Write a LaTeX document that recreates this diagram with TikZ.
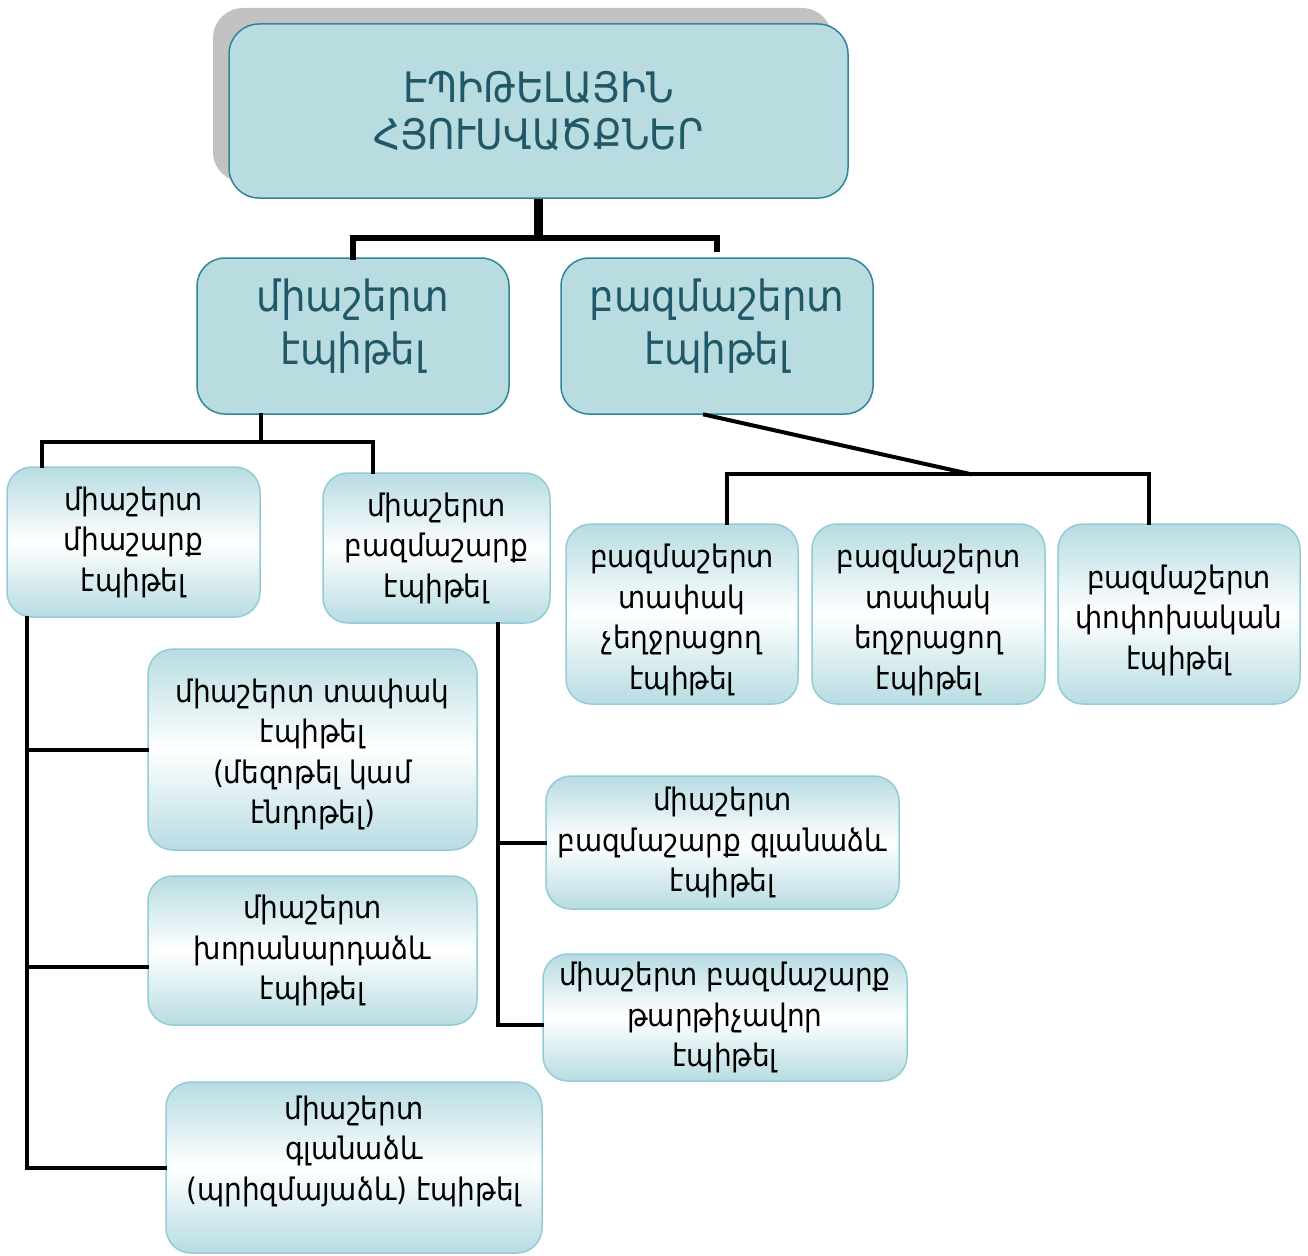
\documentclass[tikz,border=0pt]{standalone}
\usepackage{fontspec}
\setmainfont{DejaVu Sans Condensed}
\usepackage{tikz}
\usetikzlibrary{shadows}
\definecolor{tissueFill}{RGB}{185,220,224}
\definecolor{tissueEdge}{RGB}{49,133,155}
\definecolor{tissueText}{RGB}{33,88,104}
\definecolor{gradTeal}{RGB}{183,220,226}
\definecolor{gradEdge}{RGB}{146,204,214}
\definecolor{shadowGray}{RGB}{194,194,194}

\begin{document}
\begin{tikzpicture}[x=1pt, y=-1pt, line cap=rect]
        \tikzset{
           tissue/.style={
                        rectangle,
                        rounded corners=30pt,
                        draw=tissueEdge,
                        line width=1.5pt,
                        fill=tissueFill,
                        text=tissueText,
                        align=center,
                        font=\fontsize{42}{47}\selectfont,
                        drop shadow={shadow xshift=-16pt, shadow yshift=16pt,
                                     fill=shadowGray, opacity=1}
                       },
           layerType/.style={
                        rectangle,
                        rounded corners=28pt,
                        draw=tissueEdge,
                        line width=1.5pt,
                        fill=tissueFill,
                        text=tissueText,
                        align=center,
                        minimum width=312pt,
                        minimum height=156pt,
                        text depth=28pt,
                        font=\fontsize{43}{53}\selectfont
                       },
           subType/.style={
                        rectangle,
                        rounded corners=25pt,
                        draw=gradEdge,
                        line width=1.5pt,
                        top color=gradTeal,
                        bottom color=gradTeal,
                        middle color=white,
                        text=black,
                        align=center,
                        inner sep=2pt,
                        font=\fontsize{31}{40.5}\selectfont
                       },
           stem/.style={draw=black, line width=8.5pt, line cap=butt},
           trunk/.style={draw=black, line width=5.5pt},
           branch/.style={draw=black, line width=4pt},
                 };
        \useasboundingbox (0,0) rectangle (1308,1255);
    %--------------------
        \node[tissue, minimum width=619pt, minimum height=174pt]
              (tissue)       at (538.5,111)  {ԷՊԻԹԵԼԱՅԻՆ\\ՀՅՈՒՍՎԱԾՔՆԵՐ};

        \node[layerType]   (oneLayer)     at (353,336)    {միաշերտ\\էպիթել};
        \node[layerType]   (multiLayer)   at (717,336)    {բազմաշերտ\\էպիթել};

        \node[subType, minimum width=253pt, minimum height=150pt]
              (oneRow)       at (133.5,542)  {միաշերտ\\միաշարք\\էպիթել};
        \node[subType, minimum width=227pt, minimum height=150pt]
              (multiRow)     at (436.5,548)  {միաշերտ\\բազմաշարք\\էպիթել};

        \node[subType, minimum width=232pt, minimum height=180pt, text height=157pt]
              (flatNonKer)   at (682,614)    {բազմաշերտ\\տափակ\\չեղջրացող\\էպիթել};
        \node[subType, minimum width=233pt, minimum height=180pt, text height=157pt]
              (flatKer)      at (928.5,614)  {բազմաշերտ\\տափակ\\եղջրացող\\էպիթել};
        \node[subType, minimum width=242pt, minimum height=180pt, text height=117pt]
              (transitional) at (1179,614)   {բազմաշերտ\\փոփոխական\\էպիթել};

        \node[subType, minimum width=329pt, minimum height=201pt, text height=155pt]
              (flatOne)      at (312.5,749.5) {միաշերտ տափակ\\էպիթել\\(մեզոթել կամ\\էնդոթել)};
        \node[subType, minimum width=329pt, minimum height=149pt]
              (cubic)        at (312.5,950.5) {միաշերտ\\խորանարդաձև\\էպիթել};
        \node[subType, minimum width=376pt, minimum height=171pt, text depth=39pt]
              (prism)        at (354,1167.5)  {միաշերտ\\գլանաձև\\(պրիզմայաձև) էպիթել};

        \node[subType, minimum width=353pt, minimum height=133pt]
              (columnarMR)   at (722.5,842.5) {միաշերտ\\բազմաշարք գլանաձև\\էպիթել};
        \node[subType, minimum width=364pt, minimum height=127pt]
              (ciliated)     at (725,1017.5)  {միաշերտ բազմաշարք\\թարթիչավոր\\էպիթել};
    %--------------------
        \draw[stem]  (tissue.south) -- ++(0,39) coordinate (splitTop);
        \draw[trunk] (oneLayer.north) |- (splitTop) -| ([yshift=8pt]multiLayer.north);

        \draw[branch] ([xshift=-92pt]oneLayer.south) -- ++(0,27) coordinate (splitOne);
        \draw[branch] ([xshift=-91.5pt]oneRow.north) |- (splitOne) -| ([xshift=-63.5pt]multiRow.north);

        \coordinate (splitMulti) at (970,474);
        \draw[branch] ([xshift=-12pt]multiLayer.south) -- (splitMulti);
        \draw[branch] ([xshift=45pt]flatNonKer.north) |- (splitMulti) -| ([xshift=-30pt]transitional.north);

        \coordinate (rowSpine) at ([xshift=-106.5pt]oneRow.south);
        \coordinate (cubicIn)  at ([yshift=-16pt]cubic.west);
        \draw[branch] (rowSpine) |- (prism.west);
        \draw[branch] (rowSpine |- flatOne.west) -- (flatOne.west);
        \draw[branch] (rowSpine |- cubicIn) -- (cubicIn);

        \coordinate (multiRowSpine) at ([xshift=61.5pt]multiRow.south);
        \draw[branch] (multiRowSpine) |- ([yshift=-7.5pt]ciliated.west);
        \draw[branch] (multiRowSpine |- columnarMR.west) -- (columnarMR.west);
\end{tikzpicture}
\end{document}
